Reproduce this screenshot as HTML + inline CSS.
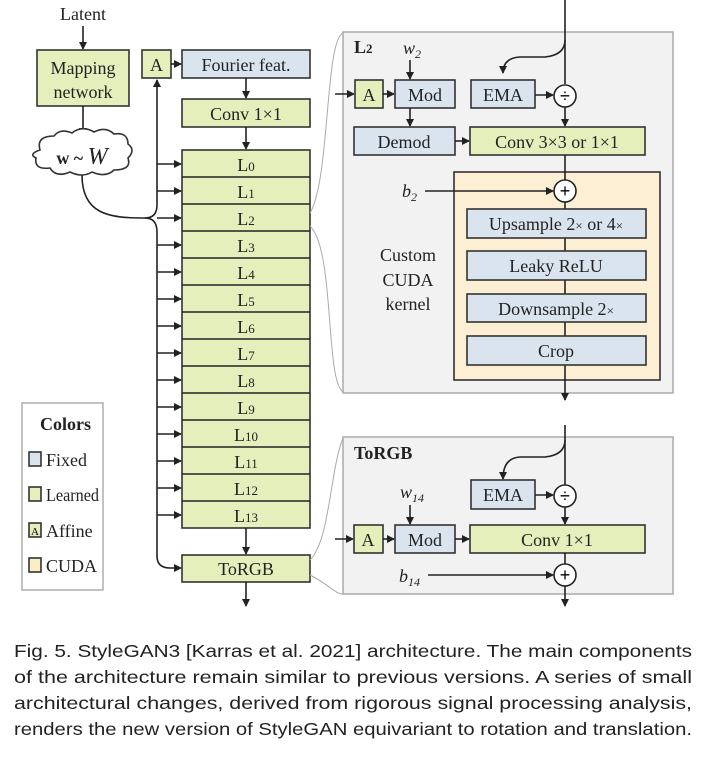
<!DOCTYPE html>
<html><head><meta charset="utf-8"><style>
html,body{margin:0;padding:0;background:#fff;}
svg{display:block;}
.t{font-family:"Liberation Serif",serif;font-size:18px;fill:#222;}
.b{stroke:#333;stroke-width:1.6;}
.g{fill:#e4efbb;}
.bl{fill:#dae4ef;}
.ln{stroke:#222;stroke-width:1.6;fill:none;}
.cap{font-family:"Liberation Sans",sans-serif;font-size:17.5px;fill:#222;}
.op{font-family:"Liberation Sans",sans-serif;font-size:18px;}
</style></head><body>
<svg width="706" height="759" viewBox="0 0 706 759" xmlns="http://www.w3.org/2000/svg">
<defs>
<marker id="ar" markerWidth="8" markerHeight="8" refX="7" refY="4" orient="auto" markerUnits="userSpaceOnUse"><path d="M0,0 L8,4 L0,8 Z" fill="#222"/></marker>
</defs>
<text class="t" x="83" y="20" text-anchor="middle">Latent</text>
<line class="ln" x1="83" y1="26" x2="83" y2="49" marker-end="url(#ar)"/>
<rect class="b g" x="37" y="50" width="92" height="56"/>
<text class="t" x="83" y="74" text-anchor="middle">Mapping</text>
<text class="t" x="83" y="98" text-anchor="middle">network</text>
<line class="ln" x1="83" y1="106" x2="83" y2="135" marker-end="url(#ar)"/>
<path d="M40,150 q-4,-14 14,-14 q6,-8 18,-3 q10,-8 22,-1 q12,-6 20,2 q14,-2 14,10 q8,6 0,14 q4,12 -14,12 q-8,8 -22,2 q-10,6 -22,0 q-14,6 -20,-4 q-16,2 -14,-10 q-8,-4 4,-8z" fill="#fff" stroke="#333" stroke-width="1.6"/>
<text class="t" x="82" y="164" text-anchor="middle" font-weight="bold" font-size="20">w ~ <tspan font-style="italic" font-weight="normal" font-size="24">W</tspan></text>
<path class="ln" d="M82,175 C82,215 110,218 145,218"/>
<path class="ln" d="M145,218 Q157,218 157,205 L157,80" marker-end="url(#ar)"/>
<path class="ln" d="M145,218 Q157,218 157,232 L157,556 Q157,568 170,568 L181,568" marker-end="url(#ar)"/>
<rect class="b g" x="142" y="50" width="29" height="28"/>
<text class="t" x="156.5" y="71" text-anchor="middle">A</text>
<line class="ln" x1="171" y1="64" x2="181" y2="64" marker-end="url(#ar)"/>
<rect class="b bl" x="182" y="50" width="128" height="28"/>
<text class="t" x="246" y="71" text-anchor="middle">Fourier feat.</text>
<line class="ln" x1="246" y1="78" x2="246" y2="98" marker-end="url(#ar)"/>
<rect class="b g" x="182" y="99" width="128" height="28"/>
<text class="t" x="246" y="120" text-anchor="middle">Conv 1×1</text>
<line class="ln" x1="246" y1="127" x2="246" y2="149" marker-end="url(#ar)"/>
<rect class="b g" x="182" y="150" width="128" height="378"/>
<g class="t" text-anchor="middle">
<text x="246" y="171">L<tspan font-size="13">0</tspan></text>
<text x="246" y="198">L<tspan font-size="13">1</tspan></text>
<text x="246" y="225">L<tspan font-size="13">2</tspan></text>
<text x="246" y="252">L<tspan font-size="13">3</tspan></text>
<text x="246" y="279">L<tspan font-size="13">4</tspan></text>
<text x="246" y="306">L<tspan font-size="13">5</tspan></text>
<text x="246" y="333">L<tspan font-size="13">6</tspan></text>
<text x="246" y="360">L<tspan font-size="13">7</tspan></text>
<text x="246" y="387">L<tspan font-size="13">8</tspan></text>
<text x="246" y="414">L<tspan font-size="13">9</tspan></text>
<text x="246" y="441">L<tspan font-size="13">10</tspan></text>
<text x="246" y="468">L<tspan font-size="13">11</tspan></text>
<text x="246" y="495">L<tspan font-size="13">12</tspan></text>
<text x="246" y="522">L<tspan font-size="13">13</tspan></text>
</g>
<g class="ln">
<line x1="182" y1="177" x2="310" y2="177"/><line x1="182" y1="204" x2="310" y2="204"/>
<line x1="182" y1="231" x2="310" y2="231"/><line x1="182" y1="258" x2="310" y2="258"/>
<line x1="182" y1="285" x2="310" y2="285"/><line x1="182" y1="312" x2="310" y2="312"/>
<line x1="182" y1="339" x2="310" y2="339"/><line x1="182" y1="366" x2="310" y2="366"/>
<line x1="182" y1="393" x2="310" y2="393"/><line x1="182" y1="420" x2="310" y2="420"/>
<line x1="182" y1="447" x2="310" y2="447"/><line x1="182" y1="474" x2="310" y2="474"/>
<line x1="182" y1="501" x2="310" y2="501"/>
</g>
<g class="ln" marker-end="url(#ar)">
<line x1="157" y1="164" x2="181" y2="164"/><line x1="157" y1="191" x2="181" y2="191"/>
<line x1="157" y1="218" x2="181" y2="218"/><line x1="157" y1="245" x2="181" y2="245"/>
<line x1="157" y1="272" x2="181" y2="272"/><line x1="157" y1="299" x2="181" y2="299"/>
<line x1="157" y1="326" x2="181" y2="326"/><line x1="157" y1="353" x2="181" y2="353"/>
<line x1="157" y1="380" x2="181" y2="380"/><line x1="157" y1="407" x2="181" y2="407"/>
<line x1="157" y1="434" x2="181" y2="434"/><line x1="157" y1="461" x2="181" y2="461"/>
<line x1="157" y1="488" x2="181" y2="488"/><line x1="157" y1="515" x2="181" y2="515"/>
</g>
<line class="ln" x1="246" y1="528" x2="246" y2="554" marker-end="url(#ar)"/>
<rect class="b g" x="182" y="555" width="128" height="27"/>
<text class="t" x="246" y="575" text-anchor="middle">ToRGB</text>
<line class="ln" x1="246" y1="582" x2="246" y2="606" marker-end="url(#ar)"/>
<path d="M310,213 C330,180 325,40 343,33" fill="none" stroke="#aaa" stroke-width="1"/>
<path d="M310,226 C335,250 325,380 343,392" fill="none" stroke="#aaa" stroke-width="1"/>
<path d="M310,560 C330,540 330,470 343,438" fill="none" stroke="#aaa" stroke-width="1"/>
<path d="M310,575 C330,585 335,594 343,594" fill="none" stroke="#aaa" stroke-width="1"/>
<rect x="22" y="403" width="81" height="187" fill="#fff" stroke="#999" stroke-width="1.2"/>
<text class="t" x="40" y="430" font-weight="bold">Colors</text>
<rect class="b bl" x="29" y="452" width="12" height="14"/><text class="t" x="46" y="466" font-size="17">Fixed</text>
<rect class="b g" x="29" y="487" width="12" height="14"/><text class="t" x="46" y="501" font-size="17" textLength="53" lengthAdjust="spacingAndGlyphs">Learned</text>
<rect class="b g" x="29" y="523" width="12" height="14"/><text x="35" y="535" font-family="Liberation Serif" font-size="11" text-anchor="middle">A</text><text class="t" x="46" y="537" font-size="17">Affine</text>
<rect class="b" fill="#fcecc8" x="29" y="558" width="12" height="14"/><text class="t" x="46" y="572" font-size="17">CUDA</text>
<rect x="343" y="32" width="330" height="361" fill="#f2f2f2" stroke="#aaa" stroke-width="1.5"/>
<text class="t" x="354" y="53" font-weight="bold">L<tspan font-size="13">2</tspan></text>
<text class="t" x="403" y="54" font-style="italic">w<tspan font-size="12" dy="4">2</tspan></text>
<line class="ln" x1="410" y1="60" x2="410" y2="79" marker-end="url(#ar)"/>
<line class="ln" x1="565" y1="0" x2="565" y2="84"/>
<path class="ln" d="M565,40 Q565,55 545,57 L520,57 Q503,58 503,73" marker-end="url(#ar)"/>
<line class="ln" x1="335" y1="94" x2="354" y2="94" marker-end="url(#ar)"/>
<rect class="b g" x="355" y="80" width="28" height="28"/><text class="t" x="369" y="101" text-anchor="middle">A</text>
<line class="ln" x1="383" y1="94" x2="394" y2="94" marker-end="url(#ar)"/>
<rect class="b bl" x="395" y="80" width="60" height="28"/><text class="t" x="425" y="101" text-anchor="middle">Mod</text>
<line class="ln" x1="410" y1="108" x2="410" y2="126" marker-end="url(#ar)"/>
<rect class="b bl" x="471" y="80" width="64" height="28"/><text class="t" x="503" y="101" text-anchor="middle">EMA</text>
<line class="ln" x1="535" y1="95" x2="553" y2="95" marker-end="url(#ar)"/>
<circle cx="565" cy="96" r="11" fill="#fff" stroke="#222" stroke-width="1.6"/><text class="op" x="565" y="102" text-anchor="middle">÷</text>
<line class="ln" x1="565" y1="107" x2="565" y2="126" marker-end="url(#ar)"/>
<rect class="b bl" x="354" y="127" width="101" height="28"/><text class="t" x="404" y="148" text-anchor="middle">Demod</text>
<line class="ln" x1="455" y1="141" x2="469" y2="141" marker-end="url(#ar)"/>
<rect class="b g" x="470" y="127" width="175" height="28"/><text class="t" x="557" y="148" text-anchor="middle">Conv 3×3 or 1×1</text>
<rect x="454" y="172" width="206" height="208" fill="#fcefd3" stroke="#333" stroke-width="1.6"/>
<line class="ln" x1="565" y1="155" x2="565" y2="400" marker-end="url(#ar)"/>
<text class="t" x="402" y="197" font-style="italic">b<tspan font-size="12" dy="4">2</tspan></text>
<line class="ln" x1="425" y1="191" x2="553" y2="191" marker-end="url(#ar)"/>
<circle cx="565" cy="191" r="11" fill="#fff" stroke="#222" stroke-width="1.6"/><text class="op" x="565" y="197" text-anchor="middle">+</text>
<rect class="b bl" x="467" y="209" width="179" height="29"/><text class="t" x="556" y="230" text-anchor="middle">Upsample 2<tspan font-size="13">×</tspan> or 4<tspan font-size="13">×</tspan></text>
<rect class="b bl" x="467" y="251" width="179" height="29"/><text class="t" x="556" y="272" text-anchor="middle">Leaky ReLU</text>
<rect class="b bl" x="467" y="294" width="179" height="28"/><text class="t" x="556" y="315" text-anchor="middle">Downsample 2<tspan font-size="13">×</tspan></text>
<rect class="b bl" x="467" y="336" width="179" height="29"/><text class="t" x="556" y="357" text-anchor="middle">Crop</text>
<text class="t" x="408" y="261" text-anchor="middle">Custom</text>
<text class="t" x="408" y="286" text-anchor="middle">CUDA</text>
<text class="t" x="408" y="310" text-anchor="middle">kernel</text>
<rect x="343" y="437" width="330" height="157" fill="#f2f2f2" stroke="#aaa" stroke-width="1.5"/>
<text class="t" x="354" y="459" font-weight="bold">ToRGB</text>
<line class="ln" x1="565" y1="425" x2="565" y2="485"/>
<path class="ln" d="M565,440 Q565,455 545,457 L520,457 Q503,458 503,479" marker-end="url(#ar)"/>
<rect class="b bl" x="471" y="480" width="64" height="29"/><text class="t" x="503" y="501" text-anchor="middle">EMA</text>
<line class="ln" x1="535" y1="495" x2="553" y2="495" marker-end="url(#ar)"/>
<circle cx="565" cy="496" r="11" fill="#fff" stroke="#222" stroke-width="1.6"/><text class="op" x="565" y="502" text-anchor="middle">÷</text>
<line class="ln" x1="565" y1="507" x2="565" y2="524" marker-end="url(#ar)"/>
<text class="t" x="400" y="498" font-style="italic">w<tspan font-size="12" dy="4">14</tspan></text>
<line class="ln" x1="410" y1="505" x2="410" y2="524" marker-end="url(#ar)"/>
<line class="ln" x1="335" y1="539" x2="353" y2="539" marker-end="url(#ar)"/>
<rect class="b g" x="354" y="525" width="29" height="28"/><text class="t" x="368" y="546" text-anchor="middle">A</text>
<line class="ln" x1="383" y1="539" x2="394" y2="539" marker-end="url(#ar)"/>
<rect class="b bl" x="395" y="525" width="60" height="28"/><text class="t" x="425" y="546" text-anchor="middle">Mod</text>
<line class="ln" x1="455" y1="539" x2="469" y2="539" marker-end="url(#ar)"/>
<rect class="b g" x="470" y="525" width="175" height="28"/><text class="t" x="557" y="546" text-anchor="middle">Conv 1×1</text>
<line class="ln" x1="565" y1="553" x2="565" y2="606" marker-end="url(#ar)"/>
<text class="t" x="399" y="582" font-style="italic">b<tspan font-size="12" dy="4">14</tspan></text>
<line class="ln" x1="428" y1="575" x2="553" y2="575" marker-end="url(#ar)"/>
<circle cx="565" cy="575" r="11" fill="#fff" stroke="#222" stroke-width="1.6"/><text class="op" x="565" y="581" text-anchor="middle">+</text>
<text class="cap" x="14" y="657" textLength="678" lengthAdjust="spacingAndGlyphs">Fig. 5.  StyleGAN3 [Karras et al. 2021] architecture. The main components</text>
<text class="cap" x="14" y="683" textLength="678" lengthAdjust="spacingAndGlyphs">of the architecture remain similar to previous versions. A series of small</text>
<text class="cap" x="14" y="709" textLength="678" lengthAdjust="spacingAndGlyphs">architectural changes, derived from rigorous signal processing analysis,</text>
<text class="cap" x="14" y="735" textLength="678" lengthAdjust="spacingAndGlyphs">renders the new version of StyleGAN equivariant to rotation and translation.</text>
</svg>
</body></html>
